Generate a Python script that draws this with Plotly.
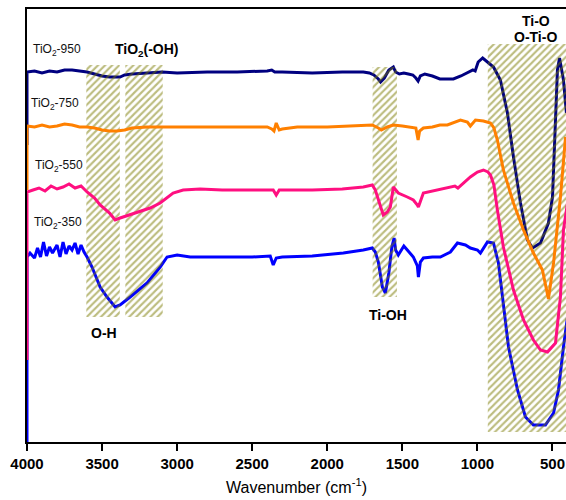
import plotly.graph_objects as go

# ---------------- data (wavenumber cm-1, relative transmittance units) ----------------
w950 = [4000, 4000, 3950, 3900, 3850, 3800, 3750, 3700, 3650, 3600, 3550, 3500, 3450, 3400, 3380, 3350,
        3300, 3200, 3100, 3000, 2800, 2600, 2400, 2370, 2350, 2300, 2100, 1900, 1760, 1720, 1690, 1660,
        1645, 1620, 1590, 1560, 1545, 1520, 1490, 1460, 1430, 1410, 1395, 1380, 1350, 1300, 1250, 1200,
        1160, 1110, 1050, 1030, 1015, 995, 965, 930, 893, 847, 800, 760, 713, 667, 633, 580, 527, 500,
        480, 467, 453, 427, 407]
t950 = [297, 370, 371, 369, 371, 370, 372, 372, 371, 370, 368, 366, 365, 365, 365, 367,
        368, 369, 370, 369, 370, 370, 371, 372, 370, 370, 369, 370, 370, 369, 367, 363,
        360, 364, 372, 375, 370, 368, 369, 368, 367, 364, 361, 366, 368, 366, 363, 363,
        363, 366, 370, 372, 371, 380, 384, 380, 375, 362, 329, 285, 239, 202, 194, 199, 219, 245,
        312, 372, 384, 362, 329]

w750 = [4000, 4000, 3950, 3900, 3850, 3800, 3750, 3700, 3650, 3600, 3550, 3500, 3450, 3400, 3350, 3300,
        3200, 3100, 3000, 2800, 2600, 2400, 2370, 2355, 2340, 2320, 2300, 2200, 2000, 1800, 1700, 1660,
        1640, 1600, 1560, 1500, 1450, 1410, 1395, 1385, 1360, 1300, 1250, 1200, 1113, 1067, 1047, 1013,
        960, 927, 913, 890, 867, 827, 760, 693, 627, 567, 540, 527, 493, 447, 413]
t750 = [252, 316, 315, 317, 315, 316, 318, 317, 315, 315, 314, 312, 311, 311, 312, 314,
        315, 315, 315, 315, 315, 315, 313, 311, 319, 312, 313, 315, 315, 316, 317, 314,
        312, 315, 317, 316, 315, 314, 302, 311, 314, 315, 317, 317, 322, 320, 316, 322,
        321, 320, 319, 314, 302, 272, 239, 212, 189, 172, 152, 143, 179, 245, 305]

w550 = [4000, 4000, 3960, 3920, 3880, 3840, 3800, 3760, 3720, 3680, 3640, 3600, 3550, 3513, 3450, 3413,
        3380, 3320, 3247, 3180, 3113, 3060, 3027, 2960, 2847, 2700, 2500, 2360, 2340, 2320, 2100, 1900,
        1760, 1700, 1680, 1660, 1627, 1600, 1580, 1560, 1527, 1467, 1427, 1400, 1393, 1360, 1267, 1200,
        1150, 1130, 1047, 1000, 960, 930, 913, 890, 867, 827, 760, 693, 627, 580, 533, 480, 447, 427, 400]
t550 = [82, 250, 252, 254, 251, 256, 253, 255, 258, 254, 256, 250, 244, 237, 229, 222,
        224, 227, 230, 234, 239, 245, 249, 252, 253, 252, 252, 252, 247, 252, 252, 253,
        255, 257, 252, 242, 227, 230, 235, 255, 249, 245, 242, 237, 235, 249, 252, 254,
        256, 254, 265, 270, 272, 270, 267, 257, 232, 195, 152, 122, 102, 92, 90, 99, 145, 212, 239]

w350 = [4000, 4000, 3980, 3950, 3930, 3910, 3890, 3870, 3850, 3830, 3800, 3780, 3760, 3740, 3720, 3700,
        3680, 3660, 3640, 3620, 3600, 3567, 3513, 3467, 3413, 3380, 3313, 3200, 3113, 3067, 3000, 2913,
        2700, 2500, 2380, 2360, 2340, 2300, 2100, 1893, 1760, 1700, 1680, 1660, 1633, 1613, 1590, 1570,
        1555, 1545, 1527, 1490, 1467, 1427, 1400, 1393, 1380, 1360, 1300, 1247, 1180, 1133, 1080, 1047,
        1000, 980, 933, 893, 860, 827, 793, 733, 680, 627, 547, 493, 460, 427, 400]
t350 = [0, 185, 189, 184, 194, 185, 200, 186, 195, 189, 197, 185, 200, 188, 196, 192,
        199, 188, 197, 190, 185, 175, 155, 145, 135, 137, 145, 159, 175, 185, 187, 185,
        185, 185, 186, 177, 184, 185, 186, 189, 192, 194, 190, 180, 155, 149, 169, 195,
        204, 192, 187, 196, 192, 185, 176, 165, 180, 184, 185, 185, 190, 199, 197, 194,
        192, 189, 200, 199, 179, 139, 95, 52, 25, 17, 17, 29, 52, 95, 125]

# hatched band regions: left edge, right edge, bottom, top
band_lo = [3605, 3345, 1698, 931]
band_hi = [3382, 3096, 1536, 380]
band_bottom = [125, 125, 145, 10]
band_top = [377, 377, 375, 398]

series_names = ["TiO<sub>2</sub>-950", "TiO<sub>2</sub>-750", "TiO<sub>2</sub>-550", "TiO<sub>2</sub>-350"]
label_x = [3975, 3985, 3963, 3970]
label_y = [392, 338, 276, 219]

band_labels = ["TiO<sub>2</sub>(-OH)", "O-H", "Ti-OH", "Ti-O", "O-Ti-O"]
band_label_x = [3200, 3487, 1593, 612, 612]
band_label_y = [392, 109, 127, 421, 405]

x_ticks = [4000, 3500, 3000, 2500, 2000, 1500, 1000, 500]

XR = [4000, 410]
YR = [0, 433]

colors = {"950": "#000080", "750": "#FF8000", "550": "#FF0F80", "350": "#0000FF"}

fig = go.Figure()

# bottom layer: blue and navy
fig.add_trace(go.Scatter(x=w350, y=t350, mode="lines", line=dict(color=colors["350"], width=3),
                         xaxis="x", yaxis="y", showlegend=False))
fig.add_trace(go.Scatter(x=w950, y=t950, mode="lines", line=dict(color=colors["950"], width=3),
                         xaxis="x", yaxis="y", showlegend=False))

# hatched bands
fig.add_trace(go.Bar(
    x=[(a + b) / 2 for a, b in zip(band_lo, band_hi)],
    width=[abs(a - b) for a, b in zip(band_lo, band_hi)],
    base=band_bottom,
    y=[t - b for t, b in zip(band_top, band_bottom)],
    marker=dict(color="rgba(0,0,0,0)", line=dict(width=0),
                pattern=dict(shape="/", fgcolor="#7a7a00", bgcolor="rgba(0,0,0,0)",
                             size=5, solidity=0.42, fillmode="overlay")),
    xaxis="x2", yaxis="y2", showlegend=False, hoverinfo="skip"))

# top layer: pink and orange
fig.add_trace(go.Scatter(x=w550, y=t550, mode="lines", line=dict(color=colors["550"], width=3),
                         xaxis="x3", yaxis="y3", showlegend=False))
fig.add_trace(go.Scatter(x=w750, y=t750, mode="lines", line=dict(color=colors["750"], width=3),
                         xaxis="x3", yaxis="y3", showlegend=False))

annotations = []
for name, x, y in zip(series_names, label_x, label_y):
    annotations.append(dict(x=x, y=y, xref="x", yref="y", text=name, showarrow=False,
                            xanchor="left", yanchor="middle",
                            font=dict(family="Liberation Sans, Arial", size=12, color="#111")))
for name, x, y in zip(band_labels, band_label_x, band_label_y):
    annotations.append(dict(x=x, y=y, xref="x", yref="y", text=name, showarrow=False,
                            xanchor="center", yanchor="middle",
                            font=dict(family="Liberation Sans, Arial", size=14, color="#000",
                                      weight="bold")))

hidden = dict(visible=False, showgrid=False, zeroline=False, fixedrange=True)

fig.update_layout(
    width=566, height=500,
    margin=dict(l=27, r=0, t=9, b=58, autoexpand=False),
    paper_bgcolor="white", plot_bgcolor="white",
    barmode="overlay",
    xaxis=dict(range=XR, showline=True, linecolor="black", linewidth=2, mirror=True,
               ticks="outside", ticklen=7, tickwidth=2, tickcolor="black",
               tickvals=x_ticks, ticktext=[str(v) for v in x_ticks], automargin=False,
               tickfont=dict(family="Liberation Sans, Arial", size=15, color="black", weight="bold"),
               showgrid=False, zeroline=False, layer="below traces",
               title=dict(text="Wavenumber (cm<sup>-1</sup>)", standoff=11,
                          font=dict(family="Liberation Sans, Arial", size=16, color="black"))),
    yaxis=dict(range=YR, showline=True, linecolor="black", linewidth=2, ticks="", automargin=False,
               showticklabels=False, showgrid=False, zeroline=False, layer="below traces"),
    xaxis2=dict(hidden, range=XR, overlaying="x"),
    yaxis2=dict(hidden, range=YR, overlaying="y"),
    xaxis3=dict(hidden, range=XR, overlaying="x"),
    yaxis3=dict(hidden, range=YR, overlaying="y"),
    annotations=annotations,
)

fig.write_html("out.html", config={"displayModeBar": False},
               post_script="document.body.style.margin='0px';document.body.style.overflow='hidden';")
